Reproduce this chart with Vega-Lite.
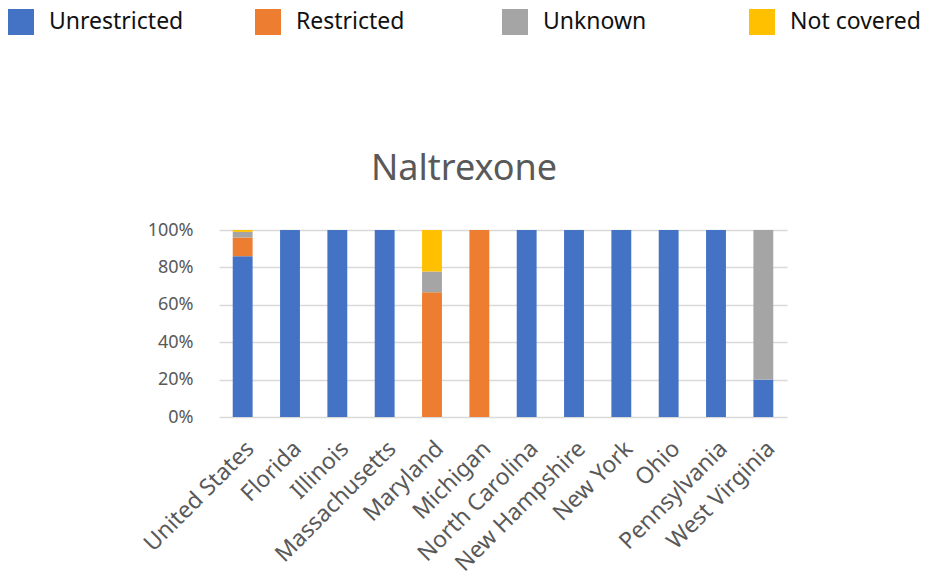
{
  "$schema": "https://vega.github.io/schema/vega-lite/v6.json",
  "autosize": "none",
  "width": 568,
  "height": 187,
  "padding": {"left": 219, "top": 230, "right": 139, "bottom": 162},
  "background": "white",
  "config": {"view": {"stroke": null}, "font": "Noto Sans"},
  "title": {
    "text": "Naltrexone",
    "fontSize": 36,
    "fontWeight": "normal",
    "color": "#595959",
    "font": "Noto Sans",
    "anchor": "middle",
    "baseline": "alphabetic",
    "dx": -39,
    "dy": 207,
    "offset": 0
  },
  "data": {
    "values": [
      {"state": "United States", "status": "Unrestricted", "pct": 86},
      {"state": "United States", "status": "Restricted", "pct": 10},
      {"state": "United States", "status": "Unknown", "pct": 3},
      {"state": "United States", "status": "Not covered", "pct": 1},
      {"state": "Florida", "status": "Unrestricted", "pct": 100},
      {"state": "Illinois", "status": "Unrestricted", "pct": 100},
      {"state": "Massachusetts", "status": "Unrestricted", "pct": 100},
      {"state": "Maryland", "status": "Restricted", "pct": 66.7},
      {"state": "Maryland", "status": "Unknown", "pct": 11.1},
      {"state": "Maryland", "status": "Not covered", "pct": 22.2},
      {"state": "Michigan", "status": "Restricted", "pct": 100},
      {"state": "North Carolina", "status": "Unrestricted", "pct": 100},
      {"state": "New Hampshire", "status": "Unrestricted", "pct": 100},
      {"state": "New York", "status": "Unrestricted", "pct": 100},
      {"state": "Ohio", "status": "Unrestricted", "pct": 100},
      {"state": "Pennsylvania", "status": "Unrestricted", "pct": 100},
      {"state": "West Virginia", "status": "Unrestricted", "pct": 20},
      {"state": "West Virginia", "status": "Unknown", "pct": 80}
    ]
  },
  "transform": [
    {"calculate": "indexof(['Unrestricted','Restricted','Unknown','Not covered'], datum.status)", "as": "stackIndex"}
  ],
  "mark": {"type": "bar"},
  "encoding": {
    "x": {
      "field": "state",
      "type": "nominal",
      "sort": null,
      "scale": {"paddingInner": 0.58, "paddingOuter": 0.29},
      "axis": {
        "title": null,
        "labelAngle": -45,
        "labelFontSize": 23,
        "labelColor": "#595959",
        "ticks": false,
        "domain": false,
        "labelPadding": 20,
        "labelLimit": 300
      }
    },
    "y": {
      "field": "pct",
      "type": "quantitative",
      "stack": "zero",
      "scale": {"domain": [0, 100]},
      "axis": {
        "title": null,
        "values": [0, 20, 40, 60, 80, 100],
        "labelExpr": "datum.value + '%'",
        "labelFontSize": 18,
        "labelColor": "#595959",
        "ticks": false,
        "domain": false,
        "labelPadding": 26,
        "gridColor": "#d9d9d9",
        "gridWidth": 1.5
      }
    },
    "order": {"field": "stackIndex", "type": "quantitative", "sort": "ascending"},
    "color": {
      "field": "status",
      "type": "nominal",
      "sort": ["Unrestricted", "Restricted", "Unknown", "Not covered"],
      "scale": {
        "domain": ["Unrestricted", "Restricted", "Unknown", "Not covered"],
        "range": ["#4472C4", "#ED7D31", "#A5A5A5", "#FFC000"]
      },
      "legend": {
        "title": null,
        "orient": "none",
        "legendX": -211,
        "legendY": -221,
        "direction": "horizontal",
        "columns": 4,
        "gridAlign": "all",
        "columnPadding": 71,
        "symbolType": "square",
        "symbolSize": 676,
        "symbolStrokeWidth": 0,
        "symbolOpacity": 1,
        "labelFontSize": 23,
        "labelColor": "#111111",
        "labelOffset": 15,
        "labelLimit": 300
      }
    }
  }
}
